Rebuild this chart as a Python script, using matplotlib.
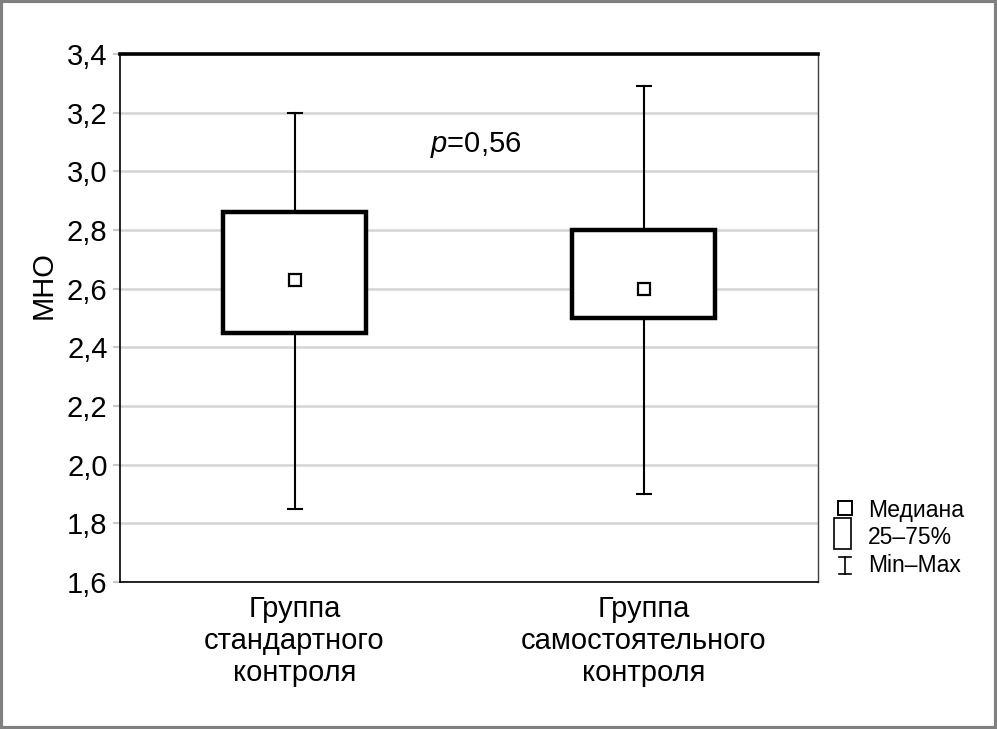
import matplotlib.pyplot as plt
from matplotlib.patches import Rectangle
from matplotlib.lines import Line2D

plt.rcParams['font.family'] = ['Liberation Sans', 'DejaVu Sans']
plt.rcParams['mathtext.fontset'] = 'custom'
plt.rcParams['mathtext.it'] = 'Liberation Sans:italic'
plt.rcParams['mathtext.rm'] = 'Liberation Sans'

# данные
groups = ["Группа\nстандартного\nконтроля", "Группа\nсамостоятельного\nконтроля"]
medians = [2.63, 2.60]
q25 = [2.45, 2.50]
q75 = [2.86, 2.80]
mins = [1.85, 1.90]
maxs = [3.20, 3.29]
yticks = [1.6, 1.8, 2.0, 2.2, 2.4, 2.6, 2.8, 3.0, 3.2, 3.4]
p_text = r"$p$=0,56"

fig = plt.figure(figsize=(9.97, 7.29), dpi=100)
ax = fig.add_axes([0.1204, 0.2016, 0.7001, 0.7243])

xs = [0.5, 1.5]
box_w = 0.41
cap_w = 0.04
for x, med, lo, hi, mn, mx in zip(xs, medians, q25, q75, mins, maxs):
    ax.plot([x, x], [hi, mx], color="black", lw=1.5, zorder=3)
    ax.plot([x, x], [mn, lo], color="black", lw=1.5, zorder=3)
    ax.plot([x - cap_w / 2, x + cap_w / 2], [mx, mx], color="black", lw=1.5, zorder=3)
    ax.plot([x - cap_w / 2, x + cap_w / 2], [mn, mn], color="black", lw=1.5, zorder=3)
    ax.add_patch(Rectangle((x - box_w / 2, lo), box_w, hi - lo, facecolor="white",
                           edgecolor="black", lw=3.2, zorder=4))
    ax.plot([x], [med], marker="s", ms=9, mfc="white", mec="black", mew=1.6, zorder=5)

ax.text(1.02, 3.09, p_text, ha="center", va="center", fontsize=21)

ax.set_xlim(0, 2)
ax.set_ylim(1.6, 3.4)
ax.set_yticks(yticks)
ax.set_yticklabels([f"{v:.1f}".replace(".", ",") for v in yticks], fontsize=21)
ax.set_xticks(xs)
ax.set_xticklabels(groups, fontsize=21, linespacing=1.2)
ax.tick_params(axis="x", length=0, pad=9)
ax.tick_params(axis="y", length=5, color="#c8c8c8", width=1.5, pad=4)
ax.yaxis.grid(True, color="#d4d4d4", lw=1.8)
ax.set_axisbelow(True)
ax.set_ylabel("МНО", fontsize=21)
ax.yaxis.set_label_coords(-0.09, 0.5625)

ax.spines["top"].set_linewidth(2.6)
ax.spines["right"].set_linewidth(1.0)
ax.spines["right"].set_color("#404040")
for s in ["left", "bottom"]:
    ax.spines[s].set_linewidth(1.2)

# легенда справа
W, H = 997.0, 729.0
def fx(px):
    return px / W
def fy(py):
    return 1 - py / H

fig.add_artist(Line2D([fx(845)], [fy(508)], marker="s", ms=10, mfc="white",
                      mec="black", mew=1.4, transform=fig.transFigure))
fig.add_artist(Rectangle((fx(834), fy(549)), fx(851) - fx(834), fy(518) - fy(549),
                         facecolor="white", edgecolor="black", lw=1.2,
                         transform=fig.transFigure))
fig.add_artist(Line2D([fx(845), fx(845)], [fy(557), fy(574)], color="black", lw=1.2,
                      transform=fig.transFigure))
for yy in (557, 574):
    fig.add_artist(Line2D([fx(839), fx(851)], [fy(yy), fy(yy)], color="black", lw=1.2,
                          transform=fig.transFigure))
for yy, t in zip((510, 538, 566), ("Медиана", "25–75%", "Min–Max")):
    fig.text(fx(868), fy(yy), t, fontsize=16.5, ha="left", va="center")

# серая рамка вокруг рисунка
fig.add_artist(Rectangle((0.0015, 0.002), 0.997, 0.996, fill=False, edgecolor="#808080",
                         lw=3, transform=fig.transFigure))

fig.savefig("out.png", dpi=100)
